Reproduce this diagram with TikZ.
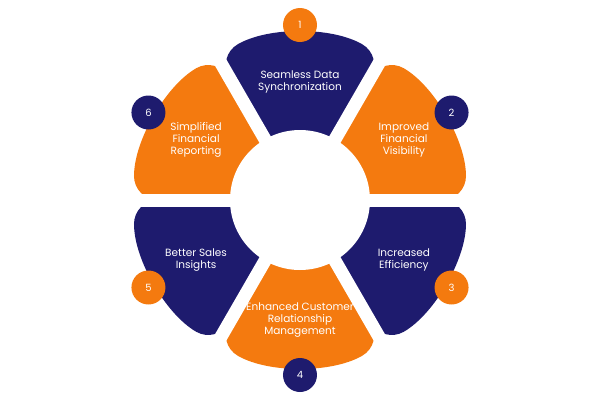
\documentclass[tikz,border=0pt]{standalone}
\usepackage{fontspec}
\setmainfont{Poppins}
\definecolor{navy}{HTML}{1E1B6E}
\definecolor{brand}{HTML}{F47A0F}
\tikzset{
  segtext/.style={text=white, align=center, font=\fontsize{10.5}{12}\selectfont},
  badge/.style={circle, minimum size=34pt, inner sep=0pt, text=white, font=\fontsize{10}{12}\selectfont},
}
\begin{document}
\begin{tikzpicture}[x=1pt,y=1pt]
    \useasboundingbox (-300,-200) rectangle (300,200);
    % Segments
    \foreach \a/\c in {90/navy, 30/brand, -30/navy, -90/brand, -150/navy, 150/brand} {
        \fill[\c, rounded corners=24pt] (\a-30:40) -- (\a-30:166) arc[start angle=\a-30, end angle=\a+30, radius=166] -- (\a+30:40) -- cycle;
    }
    % Gaps
    \foreach \a in {0,60,...,300} {
        \draw[white, line width=13pt] (0,0) -- (\a:200);
    }
    \fill[white] (0,0) circle (70);

    % Labels
    \node[segtext] (s1) at (90:118) {Seamless Data\\Synchronization};
    \node[segtext] (s2) at (30:120) {Improved\\Financial\\Visibility};
    \node[segtext] (s3) at (-30:120) {Increased\\Efficiency};
    \node[segtext] (s4) at (-90:120) {Enhanced Customer\\Relationship\\Management};
    \node[segtext] (s5) at (-150:120) {Better Sales\\Insights};
    \node[segtext] (s6) at (150:120) {Simplified\\Financial\\Reporting};

    % Badges
    \node[badge, fill=brand] (n1) at (90:175) {1};
    \node[badge, fill=navy] (n2) at (30:175) {2};
    \node[badge, fill=brand] (n3) at (-30:175) {3};
    \node[badge, fill=navy] (n4) at (-90:175) {4};
    \node[badge, fill=brand] (n5) at (-150:175) {5};
    \node[badge, fill=navy] (n6) at (150:175) {6};
\end{tikzpicture}
\end{document}
